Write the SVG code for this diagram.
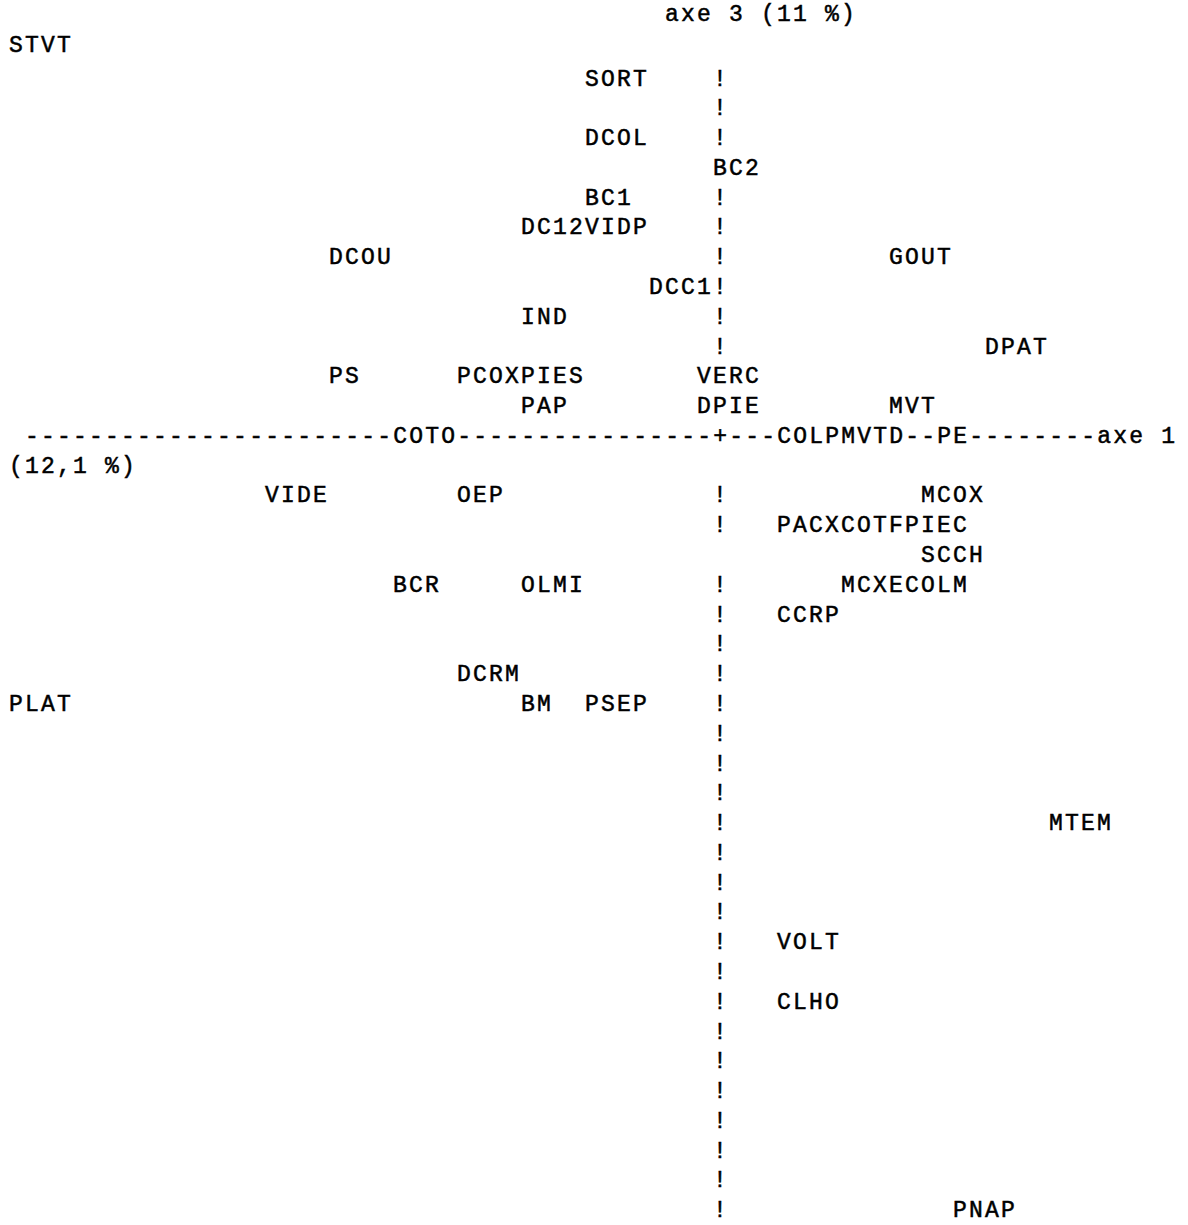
<svg xmlns="http://www.w3.org/2000/svg" width="1188" height="1225" viewBox="0 0 1188 1225">
<style>
text{font-family:"Liberation Mono","DejaVu Sans Mono",monospace;font-size:23px;letter-spacing:2.2px;fill:#000;stroke:#000;stroke-width:0.5px}
</style>
<rect x="0" y="0" width="1188" height="1225" fill="#fff"/>
<g id="connectors">
<text id="axe1" x="25.1" y="442.92">-----------------------COTO----------------+---COLPMVTD--PE--------axe 1</text>
<g id="axe3-marks">
<text x="713.1" y="85.56">!</text>
<text x="713.1" y="115.34">!</text>
<text x="713.1" y="145.12">!</text>
<text x="713.1" y="204.68">!</text>
<text x="713.1" y="234.46">!</text>
<text x="713.1" y="264.24">!</text>
<text x="713.1" y="294.02">!</text>
<text x="713.1" y="323.8">!</text>
<text x="713.1" y="353.58">!</text>
<text x="713.1" y="502.48">!</text>
<text x="713.1" y="532.26">!</text>
<text x="713.1" y="591.82">!</text>
<text x="713.1" y="621.6">!</text>
<text x="713.1" y="651.38">!</text>
<text x="713.1" y="681.16">!</text>
<text x="713.1" y="710.94">!</text>
<text x="713.1" y="740.72">!</text>
<text x="713.1" y="770.5">!</text>
<text x="713.1" y="800.28">!</text>
<text x="713.1" y="830.06">!</text>
<text x="713.1" y="859.84">!</text>
<text x="713.1" y="889.62">!</text>
<text x="713.1" y="919.4">!</text>
<text x="713.1" y="949.18">!</text>
<text x="713.1" y="978.96">!</text>
<text x="713.1" y="1008.74">!</text>
<text x="713.1" y="1038.52">!</text>
<text x="713.1" y="1068.3">!</text>
<text x="713.1" y="1098.08">!</text>
<text x="713.1" y="1127.86">!</text>
<text x="713.1" y="1157.64">!</text>
<text x="713.1" y="1187.42">!</text>
<text x="713.1" y="1217.2">!</text>
</g>
</g>
<g id="axe3-label"><text x="665.1" y="21">axe 3 (11 %)</text></g>
<g id="axe1-pct"><text x="9.1" y="472.7">(12,1 %)</text></g>
<g id="STVT"><text x="9.1" y="52">STVT</text></g>
<g id="SORT"><text x="585.1" y="85.56">SORT</text></g>
<g id="DCOL"><text x="585.1" y="145.12">DCOL</text></g>
<g id="BC2"><text x="713.1" y="174.9">BC2</text></g>
<g id="BC1"><text x="585.1" y="204.68">BC1</text></g>
<g id="DC12VIDP"><text x="521.1" y="234.46">DC12VIDP</text></g>
<g id="DCOU"><text x="329.1" y="264.24">DCOU</text></g>
<g id="GOUT"><text x="889.1" y="264.24">GOUT</text></g>
<g id="DCC1"><text x="649.1" y="294.02">DCC1</text></g>
<g id="IND"><text x="521.1" y="323.8">IND</text></g>
<g id="DPAT"><text x="985.1" y="353.58">DPAT</text></g>
<g id="PS"><text x="329.1" y="383.36">PS</text></g>
<g id="PCOXPIES"><text x="457.1" y="383.36">PCOXPIES</text></g>
<g id="VERC"><text x="697.1" y="383.36">VERC</text></g>
<g id="PAP"><text x="521.1" y="413.14">PAP</text></g>
<g id="DPIE"><text x="697.1" y="413.14">DPIE</text></g>
<g id="MVT"><text x="889.1" y="413.14">MVT</text></g>
<g id="VIDE"><text x="265.1" y="502.48">VIDE</text></g>
<g id="OEP"><text x="457.1" y="502.48">OEP</text></g>
<g id="MCOX"><text x="921.1" y="502.48">MCOX</text></g>
<g id="PACXCOTFPIEC"><text x="777.1" y="532.26">PACXCOTFPIEC</text></g>
<g id="SCCH"><text x="921.1" y="562.04">SCCH</text></g>
<g id="BCR"><text x="393.1" y="591.82">BCR</text></g>
<g id="OLMI"><text x="521.1" y="591.82">OLMI</text></g>
<g id="MCXECOLM"><text x="841.1" y="591.82">MCXECOLM</text></g>
<g id="CCRP"><text x="777.1" y="621.6">CCRP</text></g>
<g id="DCRM"><text x="457.1" y="681.16">DCRM</text></g>
<g id="PLAT"><text x="9.1" y="710.94">PLAT</text></g>
<g id="BM"><text x="521.1" y="710.94">BM</text></g>
<g id="PSEP"><text x="585.1" y="710.94">PSEP</text></g>
<g id="MTEM"><text x="1049.1" y="830.06">MTEM</text></g>
<g id="VOLT"><text x="777.1" y="949.18">VOLT</text></g>
<g id="CLHO"><text x="777.1" y="1008.74">CLHO</text></g>
<g id="PNAP"><text x="953.1" y="1217.2">PNAP</text></g>
</svg>
